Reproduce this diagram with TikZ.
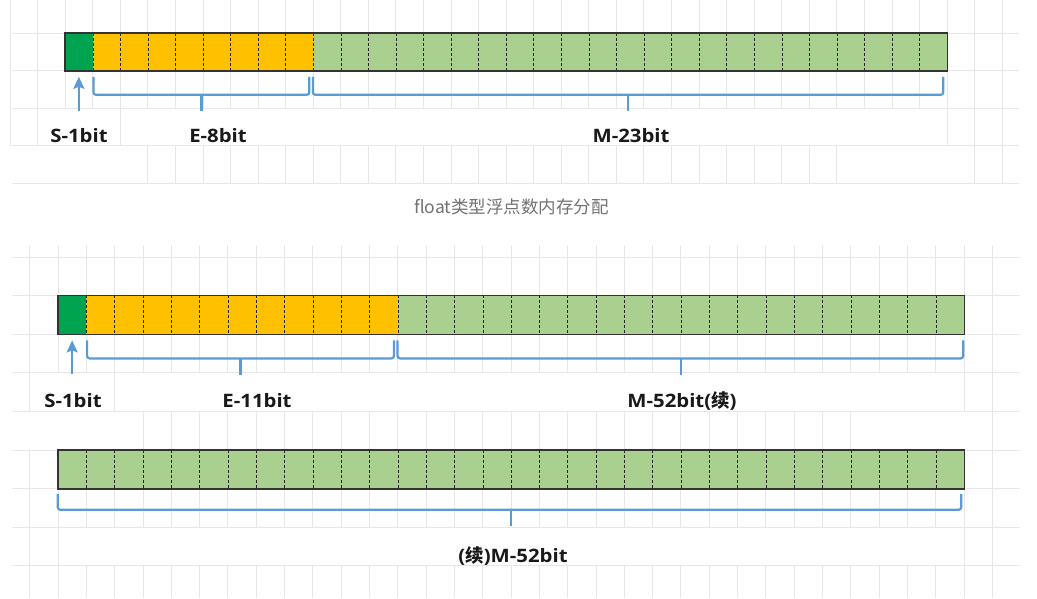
\documentclass[tikz,border=0pt]{standalone}
\usepackage{fontspec}
\setmainfont[FakeStretch=1.1]{Open Sans}
\newfontfamily\cjk{Noto Sans CJK SC}
\usetikzlibrary{positioning, calc, arrows.meta}

\definecolor{signg}{RGB}{0,163,80}
\definecolor{expo}{RGB}{255,192,0}
\definecolor{mant}{RGB}{169,208,142}
\definecolor{bluel}{RGB}{91,155,213}
\definecolor{gridgray}{RGB}{231,231,231}

\tikzset{
	bitcell/.style={rectangle, inner sep=0pt, minimum width=27.56pt, minimum height=37.6pt},
	dbitcell/.style={bitcell, minimum width=28.31pt, minimum height=38.6pt},
	gridln/.style={draw=gridgray, line width=0.8pt},
	divider/.style={draw=black!85, line width=0.7pt, dash pattern=on 3pt off 2pt},
	barframe/.style={draw=black!80, line width=1.4pt},
	brace/.style={draw=bluel, line width=2.2pt, rounded corners=2.5pt},
	sarrow/.style={draw=bluel, line width=2.2pt, -{Stealth[length=12pt, width=11pt, inset=2pt]}},
	bitlabel/.style={anchor=base, inner sep=0pt, text=black!90, font=\bfseries\fontsize{18.5}{20}\selectfont},
	capnote/.style={anchor=base, inner sep=0pt, text=black!55, font=\cjk\fontsize{17.5}{20}\selectfont}
}

\begin{document}
\begin{tikzpicture}[x=1pt, y=-1pt]
	\useasboundingbox (0,0) rectangle (1037,598);
	\fill[white] (0,0) rectangle (1037,598);
	
	% grid, float part
	\foreach \y in {33,70.6,108.2,145.8,183.4} \draw[gridln] (12,\y) -- (1019,\y);
	\foreach \k in {0,...,36} \draw[gridln] ({10+27.56*\k},0) -- ({10+27.56*\k},108.2);
	\foreach \k in {0,1,4,34,35,36} \draw[gridln] ({10+27.56*\k},108.2) -- ({10+27.56*\k},145.8);
	\foreach \k in {5,...,30,35,36} \draw[gridln] ({10+27.56*\k},145.8) -- ({10+27.56*\k},183.4);
	
	% grid, double part
	\foreach \j in {0,...,8} \draw[gridln] (12,{257+38.6*\j}) -- (1020,{257+38.6*\j});
	\foreach \k in {-1,...,33} {
		\draw[gridln] ({58+28.3125*\k},245) -- ({58+28.3125*\k},372.8);
		\draw[gridln] ({58+28.3125*\k},450) -- ({58+28.3125*\k},527.2);
		\draw[gridln] ({58+28.3125*\k},565.8) -- ({58+28.3125*\k},598);
	}
	\foreach \k in {-1,2,32,33} \draw[gridln] ({58+28.3125*\k},372.8) -- ({58+28.3125*\k},411.4);
	\foreach \k in {3,...,28,33} \draw[gridln] ({58+28.3125*\k},411.4) -- ({58+28.3125*\k},450);
	\foreach \k in {-1,0,32,33} \draw[gridln] ({58+28.3125*\k},527.2) -- ({58+28.3125*\k},565.8);
	
	% float: 1 + 8 + 23 bits
	\foreach \i in {1,...,32} {
		\ifnum\i=1 \def\bitcol{signg}\else\ifnum\i<10 \def\bitcol{expo}\else\def\bitcol{mant}\fi\fi
		\node[bitcell, fill=\bitcol] (f\i) at ({65.1+27.56*(\i-0.5)},51.8) {};
	}
	\foreach \i in {1,...,31} \draw[divider] (f\i.north east) -- (f\i.south east);
	\draw[barframe] (f1.north west) rectangle (f32.south east);
	
	\draw[sarrow] ($(f1.south)+(0,40)$) -- ($(f1.south)+(0,6)$);
	\draw[brace] ($(f2.south west)+(1,6)$) |- ($(f9.south east)+(-4,24)$) -- ($(f9.south east)+(-4,6)$);
	\draw[brace] ($(f2.south west)!0.5!(f9.south east)+(-1.5,24)$) -- +(0,16);
	\draw[brace] ($(f10.south west)+(0,6)$) |- ($(f32.south east)+(-4,24)$) -- ($(f32.south east)+(-4,6)$);
	\draw[brace] ($(f10.south west)!0.5!(f32.south east)+(-2,24)$) -- +(0,16);
	
	\node[bitlabel] (sLabF) at (79,142) {S-1bit};
	\node[bitlabel] (eLabF) at (218,142) {E-8bit};
	\node[bitlabel] (mLabF) at (631,142) {M-23bit};
	\node[capnote] (capF) at (511.5,213) {float类型浮点数内存分配};
	
	% double: 1 + 11 + 20 bits, then 32 more bits
	\foreach \i in {1,...,32} {
		\ifnum\i=1 \def\bitcol{signg}\else\ifnum\i<13 \def\bitcol{expo}\else\def\bitcol{mant}\fi\fi
		\node[dbitcell, fill=\bitcol] (d\i) at ({58+28.3125*(\i-0.5)},314.9) {};
		\node[dbitcell, fill=mant] (m\i) at ({58+28.3125*(\i-0.5)},469.3) {};
	}
	\foreach \i in {1,...,31} {
		\draw[divider] (d\i.north east) -- (d\i.south east);
		\draw[divider] (m\i.north east) -- (m\i.south east);
	}
	\draw[barframe] (d1.north west) rectangle (d32.south east);
	\draw[barframe] (m1.north west) rectangle (m32.south east);
	
	\draw[sarrow] ($(d1.south)+(0,40)$) -- ($(d1.south)+(0,6)$);
	\draw[brace] ($(d2.south west)+(1,6)$) |- ($(d12.south east)+(-4,24)$) -- ($(d12.south east)+(-4,6)$);
	\draw[brace] ($(d2.south west)!0.5!(d12.south east)+(-1.5,24)$) -- +(0,17);
	\draw[brace] ($(d13.south west)+(0,6)$) |- ($(d32.south east)+(-1,24)$) -- ($(d32.south east)+(-1,6)$);
	\draw[brace] ($(d13.south west)!0.5!(d32.south east)+(0,24)$) -- +(0,17);
	\draw[brace] ($(m1.south west)+(0,5)$) |- ($(m32.south east)+(-3,21)$) -- ($(m32.south east)+(-3,5)$);
	\draw[brace] ($(m1.south west)!0.5!(m32.south east)+(0,21)$) -- +(0,16);
	
	\node[bitlabel] (sLabD) at (73,407) {S-1bit};
	\node[bitlabel] (eLabD) at (257,407) {E-11bit};
	\node[bitlabel] (mLabD) at (682,407) {M-52bit({\cjk 续})};
	\node[bitlabel] (mLabR) at (513,562) {({\cjk 续})M-52bit};
\end{tikzpicture}
\end{document}
